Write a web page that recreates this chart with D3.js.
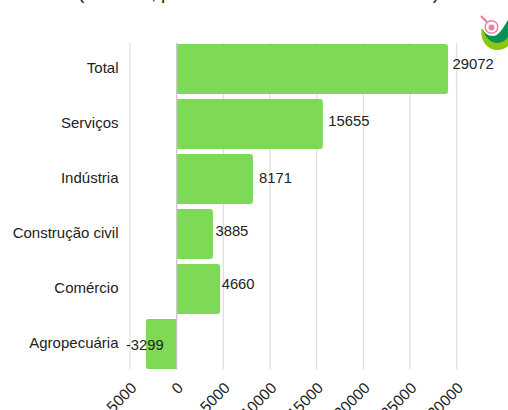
<!DOCTYPE html>
<html><head><meta charset="utf-8">
<script src="https://cdn.jsdelivr.net/npm/d3@7"></script>
<style>html,body{margin:0;padding:0;background:#fff}svg{display:block}text{font-family:"Liberation Sans",Arial,sans-serif;fill:#222}</style>
</head><body><div id="c"></div>
<script>
const categories=["Total","Serviços","Indústria","Construção civil","Comércio","Agropecuária"];
const values=[29072,15655,8171,3885,4660,-3299];
const ticks=[-5000,0,5000,10000,15000,20000,25000,30000];
const titleText="(Outubro, por setor de atividade econômica)";
const W=508,H=410;
const labelShiftY=[0,2,4,2,0,6];
const labelShiftX=[1,2,2.5,-1,-2,-1];
const svg=d3.select("#c").append("svg").attr("width",W).attr("height",H);
const x=d3.scaleLinear().domain([-5000,30000]).range([130,456.7]);
const y=d3.scaleBand().domain(categories).range([41.5,371.5]).paddingInner(0.09).paddingOuter(0.045);
// title, cut by the top edge as in the reference
svg.append("text").attr("x",78).attr("y",-1).attr("font-size",19).attr("textLength",361).attr("fill","#000").text(titleText);
// grid
svg.append("g").selectAll("line").data(ticks.filter(d=>d!==0)).join("line")
 .attr("x1",x).attr("x2",x).attr("y1",43).attr("y2",369.5).attr("stroke","#e0e0e0").attr("stroke-width",1.3);
// bars
function barPath(v,cat){
 const x0=x(0),x1=x(v),t=y(cat),b=t+y.bandwidth(),r=3,s=v<0?-1:1;
 return `M${x0},${t}L${x1-s*r},${t}Q${x1},${t} ${x1},${t+r}L${x1},${b-r}Q${x1},${b} ${x1-s*r},${b}L${x0},${b}Z`;
}
svg.append("g").selectAll("path").data(values).join("path")
 .attr("d",(d,i)=>barPath(d,categories[i])).attr("fill","#7ed957");
svg.append("line").attr("x1",x(0)).attr("x2",x(0)).attr("y1",43).attr("y2",369.5).attr("stroke","#c8c8c8").attr("stroke-width",1.3);
// category labels
svg.append("g").selectAll("text").data(categories).join("text")
 .attr("x",118.5).attr("y",d=>y(d)+y.bandwidth()/2+4).attr("text-anchor","end").attr("font-size",15).text(d=>d);
// value labels
svg.append("g").selectAll("text").data(values).join("text")
 .attr("x",(d,i)=>(d<0?x(d)-19:x(d)+3.5)+labelShiftX[i]).attr("y",(d,i)=>y(categories[i])+y.bandwidth()/2+labelShiftY[i])
 .attr("font-size",14.8).text(d=>d);
// axis labels
svg.append("g").selectAll("text").data(ticks).join("text")
 .attr("transform",d=>`translate(${x(d)+7.5},389) rotate(-45)`)
 .attr("text-anchor","end").attr("font-size",15.5).text(d=>d);
// logo
const g=svg.append("g");
g.append("path").attr("d","M481.5,29C480,40 487,50 497,50C502,50 506,48 508,46L508,33C500,42 488,42 483,29Z").attr("fill","#8cc811");
g.append("path").attr("d","M483,30C486,38 491,43 497,43C502,43 506,40 508,37L508,20C502,30 498,36 493,36C488,36 485,33 483,30Z").attr("fill","#0a8f55");
g.append("circle").attr("cx",491.5).attr("cy",27).attr("r",6.3).attr("fill","#fff").attr("stroke","#ee7f9a").attr("stroke-width",1.5);
g.append("circle").attr("cx",491.5).attr("cy",27.5).attr("r",3).attr("fill","#ee7f9a");
g.append("line").attr("x1",487).attr("y1",22).attr("x2",481).attr("y2",16).attr("stroke","#ee7f9a").attr("stroke-width",2.4);
</script></body></html>
